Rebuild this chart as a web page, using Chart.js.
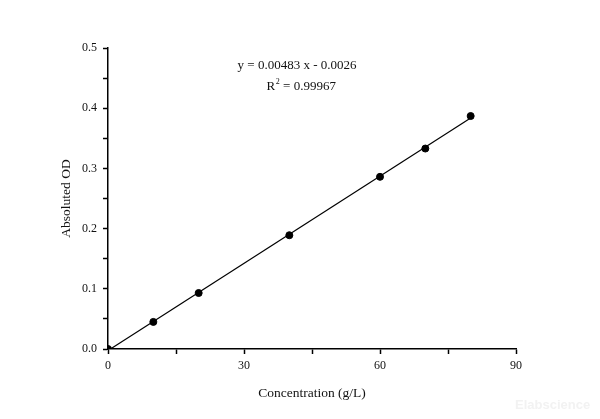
<!DOCTYPE html>
<html>
<head>
<meta charset="utf-8">
<script src="https://cdn.jsdelivr.net/npm/chart.js@4/dist/chart.umd.min.js"></script>
<style>
  html, body { margin: 0; padding: 0; background: #fff; }
  #wrap { width: 600px; height: 419px; }
</style>
</head>
<body>
<div id="wrap"><canvas id="chart" width="600" height="419"></canvas></div>
<script>
// measured standards
const concentration = [0, 10, 20, 40, 60, 70, 80];
const absorbance = [0, 0.045, 0.093, 0.189, 0.286, 0.333, 0.387];

// fitted line end points
const fitX = [0.54, 80];
const fitY = [0, 0.3838];

const xTicks = [0, 30, 60, 90];
const yTicks = [0.0, 0.1, 0.2, 0.3, 0.4, 0.5];

const equation = 'y = 0.00483 x - 0.0026';
const rSquared = ['R', '2', ' = 0.99967'];

const serif = '"Liberation Serif", "DejaVu Serif", serif';

// equation text (with a real superscript) and faint watermark
const notes = {
  id: 'notes',
  afterDraw(chart) {
    const ctx = chart.ctx;
    ctx.save();
    ctx.fillStyle = '#111';
    ctx.font = '13px ' + serif;
    ctx.textAlign = 'center';
    ctx.textBaseline = 'middle';
    ctx.fillText(equation, 297, 66);

    ctx.textAlign = 'left';
    const wR = ctx.measureText(rSquared[0]).width;
    ctx.font = '8px ' + serif;
    const w2 = ctx.measureText(rSquared[1]).width;
    ctx.font = '13px ' + serif;
    const wRest = ctx.measureText(rSquared[2]).width;
    let x = 301 - (wR + w2 + wRest) / 2;
    ctx.fillText(rSquared[0], x, 87);
    x += wR;
    ctx.font = '8px ' + serif;
    ctx.fillText(rSquared[1], x + 0.5, 82);
    x += w2 + 0.5;
    ctx.font = '13px ' + serif;
    ctx.fillText(rSquared[2], x, 87);

    ctx.fillStyle = '#f2f2f2';
    ctx.font = 'bold 13px "Liberation Sans", sans-serif';
    ctx.fillText('Elabscience', 515, 405);
    ctx.restore();
  }
};

const pts = concentration.map((x, i) => ({ x: x, y: absorbance[i] }));
const fit = fitX.map((x, i) => ({ x: x, y: fitY[i] }));

new Chart(document.getElementById('chart'), {
  type: 'scatter',
  data: {
    datasets: [
      {
        label: 'Fit',
        type: 'line',
        data: fit,
        borderColor: '#000',
        borderWidth: 1.2,
        pointRadius: 0,
        fill: false
      },
      {
        label: 'Absoluted OD',
        data: pts,
        backgroundColor: '#000',
        borderColor: '#000',
        pointRadius: 3.5,
        clip: 0
      }
    ]
  },
  options: {
    responsive: false,
    animation: false,
    layout: { padding: { left: 54, right: 84, top: 48, bottom: 13 } },
    plugins: {
      legend: { display: false },
      tooltip: { enabled: false }
    },
    scales: {
      x: {
        type: 'linear',
        min: 0,
        max: 90,
        afterFit(s) { s.height = 57; },
        afterBuildTicks(s) {
          s.ticks = [];
          for (let v = 0; v <= 90; v += 15) s.ticks.push({ value: v });
        },
        ticks: {
          color: '#111',
          font: { family: serif, size: 12 },
          padding: 5,
          maxRotation: 0,
          autoSkip: false,
          callback: v => xTicks.includes(v) ? String(v) : ''
        },
        grid: { drawOnChartArea: false, tickLength: 5, tickColor: '#000', tickWidth: 1.5 },
        border: { color: '#000', width: 1.5 },
        title: {
          display: true,
          text: 'Concentration (g/L)',
          color: '#111',
          font: { family: serif, size: 13.5 },
          padding: { top: 4, bottom: 4 }
        }
      },
      y: {
        type: 'linear',
        min: 0,
        max: 0.5,
        afterFit(s) { s.width = 54; },
        afterBuildTicks(s) {
          s.ticks = [];
          for (let i = 0; i <= 10; i++) s.ticks.push({ value: i * 0.05 });
        },
        ticks: {
          color: '#111',
          font: { family: serif, size: 12 },
          padding: 6,
          autoSkip: false,
          callback: v => {
            const hit = yTicks.find(t => Math.abs(t - v) < 1e-6);
            return hit === undefined ? '' : hit.toFixed(1);
          }
        },
        grid: { drawOnChartArea: false, tickLength: 5, tickColor: '#000', tickWidth: 1.5 },
        border: { color: '#000', width: 1.5 },
        title: {
          display: true,
          text: 'Absoluted OD',
          color: '#111',
          font: { family: serif, size: 13.5 },
          padding: { top: 4, bottom: 4 }
        }
      }
    }
  },
  plugins: [notes]
});
</script>
</body>
</html>
